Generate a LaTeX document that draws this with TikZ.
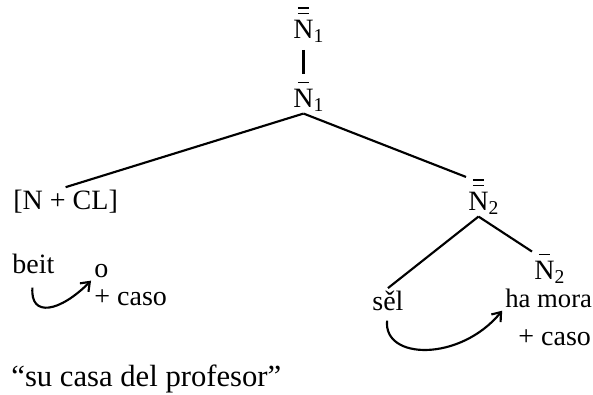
\documentclass[tikz,border=0pt]{standalone}
\usepackage{fontspec}
\setmainfont{Liberation Serif}
\usetikzlibrary{arrows.meta}

\newcommand{\nbar}[1]{\rlap{\hspace{0.16em}\rule[#1]{0.4em}{0.055em}}}
\newcommand{\catN}[1]{\nbar{0.84em}N\rlap{\textsubscript{#1}}}
\newcommand{\catNN}[1]{\nbar{0.84em}\nbar{1.04em}N\rlap{\textsubscript{#1}}}

\begin{document}
\begin{tikzpicture}[x=0.75pt,y=-0.75pt,line width=1.6pt,
                   >={Straight Barb[length=6pt,width=9pt]},
                   word/.style={anchor=base west,inner sep=1pt},
                   every node/.style={font=\fontsize{21}{25}\selectfont}]
\useasboundingbox (0,0) rectangle (593,394);
% tree
\node[word] (top) at (291,38) {\catNN{1}};
\node[word] (mid) at (291,107) {\catN{1}};
\node[word] (ncl) at (11,209) {[N\ +\ CL]};
\node[word] (nn2) at (466,210) {\catNN{2}};
\node[word] (sel) at (370,310) {s\v{e}l};
\node[word] (n2) at (532,279) {\catN{2}};
\node[word,font=\fontsize{20}{24}\selectfont] (mora) at (503,307) {ha mora};
\node[word] (caso2) at (516,345) {+ caso};
\draw[shorten <=4pt,shorten >=4pt] (top.south) -- (mid.north);
\draw (mid.south) -- (ncl.north);
\draw (mid.south) -- (nn2.north west);
\draw (nn2.south) -- (sel.north);
\draw (nn2.south) -- (n2.north west);
% left example
\node[word] (beit) at (10,273) {beit};
\node[word] (o) at (92,277) {o};
\node[word] (caso1) at (92,305) {+ caso};
\draw[->,shorten <=9pt,shorten >=1pt] (beit.south) .. controls (30,318) and (60,312) .. (o.south west);
\draw[->,shorten <=6pt,shorten >=1pt] (sel.south) .. controls (383,360) and (460,362) .. (mora.south west);
\node[word,font=\fontsize{23}{27}\selectfont] (gloss) at (9,386) {“su casa del profesor”};
\end{tikzpicture}
\end{document}
